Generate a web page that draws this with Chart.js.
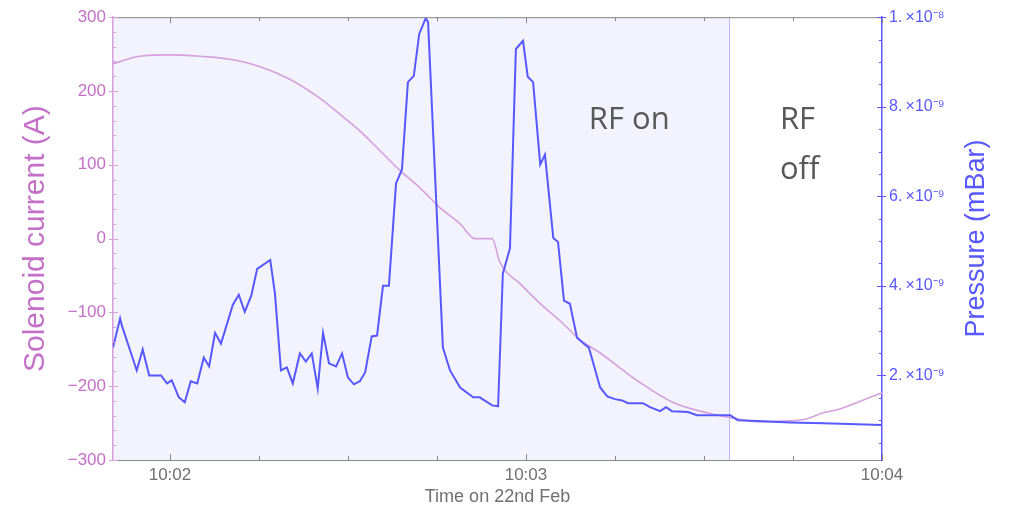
<!DOCTYPE html>
<html>
<head>
<meta charset="utf-8">
<title>Solenoid current and pressure</title>
<script src="https://cdn.jsdelivr.net/npm/chart.js@4/dist/chart.umd.min.js"></script>
<style>
  html, body { margin: 0; padding: 0; background: #fff; }
  #wrap { width: 1013px; height: 510px; }
</style>
</head>
<body>
<div id="wrap"><canvas id="myChart"></canvas></div>
<script>
// times are seconds after 10:00:00
const pressureTime = [110.4, 111.6, 111.9, 114.4, 115.4, 116.5, 118.5, 119.5, 120.3, 121.5,
  122.5, 123.5, 124.6, 125.7, 126.6, 127.6, 128.6, 130.6, 131.6, 132.6,
  133.7, 134.7, 136.9, 137.7, 138.7, 139.7, 140.7, 141.9, 142.9, 143.9,
  144.9, 145.8, 146.8, 148.0, 149.0, 150.0, 151.0, 152.0, 152.9, 154.0,
  154.9, 155.9, 156.9, 158.1, 159.1, 160.1, 161.1, 162.0, 163.1, 163.5,
  166.0, 167.2, 168.9, 171.1, 172.2, 174.3, 175.3, 176.1, 177.3, 178.3,
  179.5, 180.3, 181.2, 182.4, 183.2, 184.6, 185.4, 186.4, 187.4, 188.6,
  189.9, 190.6, 192.5, 193.7, 195.0, 196.2, 197.2, 199.7, 200.9, 202.6,
  203.6, 204.6, 207.3, 208.8, 211.5, 214.4, 215.7, 218.9, 224.5, 230.1,
  235.8, 240.0];
// pressure in units of 1e-9 mBar
const pressureNano = [2.62, 3.27, 3.11, 2.11, 2.58, 2.00, 2.00, 1.82, 1.89, 1.51,
  1.40, 1.87, 1.82, 2.40, 2.20, 2.95, 2.71, 3.58, 3.80, 3.42,
  3.78, 4.38, 4.58, 3.82, 2.11, 2.18, 1.82, 2.49, 2.31, 2.49,
  1.71, 2.95, 2.27, 2.20, 2.49, 1.95, 1.80, 1.87, 2.07, 2.87,
  2.89, 4.00, 4.00, 6.29, 6.60, 8.55, 8.69, 9.62, 9.98, 9.89,
  2.62, 2.11, 1.73, 1.51, 1.51, 1.33, 1.31, 4.27, 4.84, 9.29,
  9.47, 8.67, 8.55, 6.71, 6.93, 5.07, 4.98, 3.67, 3.60, 2.84,
  2.69, 2.62, 1.73, 1.53, 1.47, 1.44, 1.38, 1.38, 1.29, 1.20,
  1.29, 1.20, 1.18, 1.11, 1.11, 1.11, 1.00, 0.98, 0.95, 0.93,
  0.91, 0.89];

const currentTime = [110.4, 114.9, 120.0, 125.1, 130.1, 135.2, 140.2, 145.3, 148.7, 152.0,
  155.4, 158.8, 162.1, 165.5, 168.9, 171.4, 174.3, 175.6, 179.0, 182.4,
  185.7, 189.1, 192.5, 199.2, 204.8, 210.5, 214.7, 218.9, 224.5, 227.4,
  230.1, 232.9, 235.8, 238.3, 240.0];
const currentAmps = [237, 247, 249, 247, 243, 233, 216, 190, 168, 146,
  119, 92, 69, 42, 20, 0, 0, -32, -61, -88,
  -111, -137, -155, -195, -222, -236, -243, -248, -247, -244,
  -236, -231, -222, -214, -209];

const timeTicks = [120, 135, 150, 165, 180, 195, 210, 225, 240];
const timeTickLabels = ['10:02', '', '', '', '10:03', '', '', '', '10:04'];
const pressureTickLabels = { 2: '2.\u2009×10⁻⁹', 4: '4.\u2009×10⁻⁹', 6: '6.\u2009×10⁻⁹', 8: '8.\u2009×10⁻⁹', 10: '1.\u2009×10⁻⁸' };

const rfOffTime = 214.2;

const currentInk = 'rgb(196,112,200)';
const currentLine = 'rgb(214,160,220)';
const pressureInk = 'rgb(88,88,255)';
const greyInk = 'rgb(112,112,112)';
const frameGrey = 'rgb(135,135,135)';

function seg(ctx, x1, y1, x2, y2) {
  ctx.beginPath();
  ctx.moveTo(x1, y1);
  ctx.lineTo(x2, y2);
  ctx.stroke();
}

const decorations = {
  id: 'decorations',
  beforeDraw(chart) {
    const { ctx, chartArea: a, scales: { x } } = chart;
    const xOff = Math.round(x.getPixelForValue(rfOffTime)) + 0.5;
    ctx.save();
    ctx.fillStyle = 'rgb(243,243,253)';
    ctx.fillRect(a.left, a.top, xOff - a.left, a.bottom - a.top);
    ctx.strokeStyle = 'rgb(186,186,250)';
    ctx.lineWidth = 1;
    seg(ctx, xOff, a.top, xOff, a.bottom);
    ctx.restore();
  },
  afterDatasetsDraw(chart) {
    const { ctx, chartArea: a, scales: { x, y, y2 } } = chart;
    ctx.save();
    ctx.lineWidth = 1;

    // frame top edge and time ticks pointing inward
    ctx.strokeStyle = frameGrey;
    seg(ctx, a.left, a.top + 0.5, a.right, a.top + 0.5);
    x.ticks.forEach(t => {
      const px = Math.round(x.getPixelForValue(t.value)) + 0.5;
      const len = t.value % 60 === 0 ? 6 : 4;
      seg(ctx, px, a.bottom, px, a.bottom - len);
      seg(ctx, px, a.top, px, a.top + len);
    });

    ctx.strokeStyle = currentLine;
    y.ticks.forEach(t => {
      const py = Math.round(y.getPixelForValue(t.value)) + 0.5;
      if (t.value % 100 === 0) seg(ctx, a.left - 4, py, a.left + 5, py);
      else seg(ctx, a.left, py, a.left + 3, py);
    });

    ctx.strokeStyle = pressureInk;
    y2.ticks.forEach(t => {
      const py = Math.round(y2.getPixelForValue(t.value)) + 0.5;
      if (Math.abs(t.value % 2) < 1e-6 || Math.abs(t.value % 2 - 2) < 1e-6) seg(ctx, a.right - 5, py, a.right + 4, py);
      else seg(ctx, a.right - 3, py, a.right, py);
    });

    // right axis title, reading upwards like the left one
    ctx.fillStyle = pressureInk;
    ctx.font = '27px "Liberation Sans", Arial, sans-serif';
    ctx.textAlign = 'center';
    ctx.textBaseline = 'middle';
    ctx.translate(y2.right - 36, (a.top + a.bottom) / 2);
    ctx.rotate(-Math.PI / 2);
    ctx.fillText('Pressure (mBar)', 0, 0);
    ctx.setTransform(1, 0, 0, 1, 0, 0);

    // RF state labels
    ctx.fillStyle = 'rgb(88,88,88)';
    ctx.font = '31px "Open Sans", sans-serif';
    ctx.textBaseline = 'alphabetic';
    ctx.textAlign = 'center';
    ctx.fillText('RF on', x.getPixelForValue(197.4), y.getPixelForValue(148));
    ctx.textAlign = 'left';
    ctx.fillText('RF', x.getPixelForValue(222.8), y.getPixelForValue(148));
    ctx.fillText('off', x.getPixelForValue(222.8), y.getPixelForValue(81));
    ctx.restore();
  }
};

document.addEventListener('DOMContentLoaded', function () {
  const ctx = document.getElementById('myChart').getContext('2d');
  const myChart = new Chart(ctx, {
    type: 'line',
    data: {
      datasets: [{
        label: 'Pressure',
        data: pressureTime.map((t, i) => ({ x: t, y: pressureNano[i] })),
        yAxisID: 'y2',
        borderColor: pressureInk,
        borderWidth: 2,
        pointRadius: 0,
        tension: 0
      }, {
        label: 'Solenoid current',
        data: currentTime.map((t, i) => ({ x: t, y: currentAmps[i] })),
        yAxisID: 'y',
        borderColor: currentLine,
        borderWidth: 1.6,
        pointRadius: 0,
        cubicInterpolationMode: 'monotone'
      }]
    },
    options: {
      responsive: true,
      maintainAspectRatio: false,
      animation: false,
      layout: { padding: { top: 16, left: 0, right: 0, bottom: 0 } },
      plugins: { legend: { display: false }, tooltip: { enabled: false } },
      scales: {
        x: {
          type: 'linear',
          min: 110.4,
          max: 240,
          afterBuildTicks: s => { s.ticks = timeTicks.map(v => ({ value: v })); },
          afterFit: s => { s.height = 50; },
          grid: { display: false, drawTicks: false },
          border: { display: true, color: frameGrey, width: 1 },
          ticks: {
            autoSkip: false,
            maxRotation: 0,
            padding: 5,
            color: greyInk,
            font: { family: '"Liberation Sans", Arial, sans-serif', size: 17 },
            callback: (v, i) => timeTickLabels[i]
          },
          title: {
            display: true,
            text: 'Time on 22nd Feb',
            color: greyInk,
            font: { family: '"Liberation Sans", Arial, sans-serif', size: 18 },
            padding: { top: 0, bottom: 2 }
          }
        },
        y: {
          position: 'left',
          min: -300,
          max: 300,
          afterBuildTicks: s => {
            const t = [];
            for (let v = -300; v <= 300; v += 20) t.push({ value: v });
            s.ticks = t;
          },
          afterFit: s => { s.width = 113; },
          grid: { display: false, drawTicks: false },
          border: { display: true, color: currentLine, width: 1.5 },
          ticks: {
            autoSkip: false,
            padding: 7,
            color: currentInk,
            font: { family: '"Liberation Sans", Arial, sans-serif', size: 17 },
            callback: v => (v % 100 === 0 ? String(v).replace('-', '\u2212') : '')
          },
          title: {
            display: true,
            text: 'Solenoid current (A)',
            color: currentInk,
            font: { family: '"Liberation Sans", Arial, sans-serif', size: 30 },
            padding: { top: 18, bottom: 0 }
          }
        },
        y2: {
          position: 'right',
          min: 0.11,
          max: 10,
          afterBuildTicks: s => {
            const t = [];
            for (let v = 0.5; v <= 10; v += 0.5) t.push({ value: v });
            s.ticks = t;
          },
          afterFit: s => { s.width = 131; },
          grid: { display: false, drawTicks: false },
          border: { display: true, color: pressureInk, width: 1.5 },
          ticks: {
            autoSkip: false,
            padding: 7,
            color: pressureInk,
            font: { family: '"Liberation Sans", Arial, sans-serif', size: 16 },
            callback: v => pressureTickLabels[v] || ''
          }
        }
      }
    },
    plugins: [decorations]
  });
});
</script>
</body>
</html>
